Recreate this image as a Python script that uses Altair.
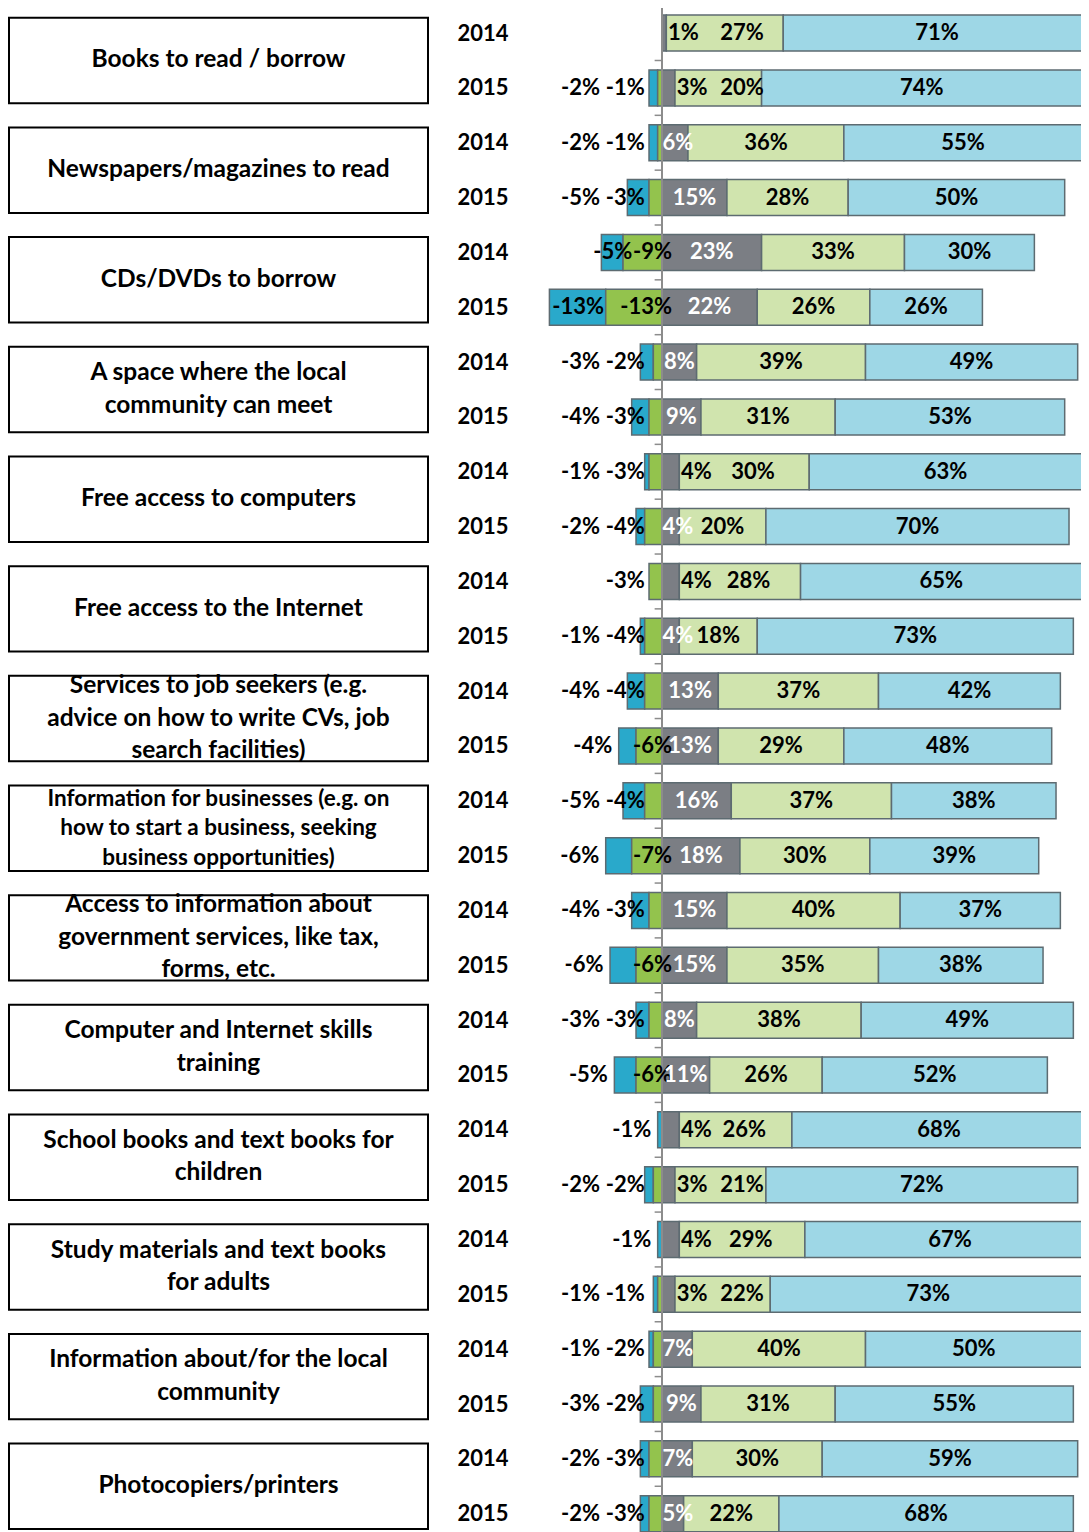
import json
import altair as alt
import pandas as pd

categories = [
    "Books to read / borrow",
    "Newspapers/magazines to read",
    "CDs/DVDs to borrow",
    "A space where the local\ncommunity can meet",
    "Free access to computers",
    "Free access to the Internet",
    "Services to job seekers (e.g.\nadvice on how to write CVs, job\nsearch facilities)",
    "Information for businesses (e.g. on\nhow to start a business, seeking\nbusiness opportunities)",
    "Access to information about\ngovernment services, like tax,\nforms, etc.",
    "Computer and Internet skills\ntraining",
    "School books and text books for\nchildren",
    "Study materials and text books\nfor adults",
    "Information about/for the local\ncommunity",
    "Photocopiers/printers",
]
years = ["2014", "2015"]

# one value per row: category 1 (2014, 2015), category 2 (2014, 2015), ...
very_neg = [0, -2, -2, -5, -5, -13, -3, -4, -1, -2, 0, -1, -4, -4, -5, -6,
            -4, -6, -3, -5, -1, -2, -1, -1, -1, -3, -2, -2]
neg = [0, -1, -1, -3, -9, -13, -2, -3, -3, -4, -3, -4, -4, -6, -4, -7,
       -3, -6, -3, -6, 0, -2, 0, -1, -2, -2, -3, -3]
neutral = [1, 3, 6, 15, 23, 22, 8, 9, 4, 4, 4, 4, 13, 13, 16, 18,
           15, 15, 8, 11, 4, 3, 4, 3, 7, 9, 7, 5]
pos = [27, 20, 36, 28, 33, 26, 39, 31, 30, 20, 28, 18, 37, 29, 37, 30,
       40, 35, 38, 26, 26, 21, 29, 22, 40, 31, 30, 22]
very_pos = [71, 74, 55, 50, 30, 26, 49, 53, 63, 70, 65, 73, 42, 48, 38, 39,
            37, 38, 49, 52, 68, 72, 67, 73, 50, 55, 59, 68]

seg_names = ["very_neg", "neg", "neutral", "pos", "very_pos"]
seg_colors = ["#29A9CB", "#93C34D", "#7B7E84", "#D0E4AE", "#9ED7E6"]

# ---- layout constants (pixels) ----
W, H = 1073, 1525
ZERO_PX = 654          # where 0 % sits
PX = 4.33              # pixels per percentage point
ROW0 = 20.2            # centre of first row
STEP = 55.2            # row pitch
BOX_L, BOX_R = 1, 420
YEAR_RIGHT = 500
FONT = "Lato"
LH_BIG, LH_SMALL = 32.5, 29.5

X_MIN = -ZERO_PX / PX
X_MAX = (W - ZERO_PX) / PX
Y_MIN = -ROW0 / STEP
Y_MAX = (H - ROW0) / STEP


def text_w(s):
    w = 0.0
    for ch in s:
        if ch.isdigit():
            w += 12.8
        elif ch == "%":
            w += 19.0
        elif ch == "-":
            w += 8.5
    return w / PX


seg_rows, lab_rows = [], []
n_rows = len(categories) * len(years)
for i, cat in enumerate(categories):
    for j, yr in enumerate(years):
        k = 2 * i + j
        vn, ng, nu, p, vp = very_neg[k], neg[k], neutral[k], pos[k], very_pos[k]
        bounds = {
            "neg": (ng, 0),
            "very_neg": (ng + vn, ng),
            "neutral": (0, nu),
            "pos": (nu, nu + p),
            "very_pos": (nu + p, nu + p + vp),
        }
        for s in seg_names:
            a, b = bounds[s]
            if a != b:
                seg_rows.append(dict(row=k, seg=s, x0=a, x1=b))

        g, bv = -ng, -vn
        green_left = None
        if g > 0:
            t = f"{ng}%"
            right = 2.3 if g >= 5 else -4.0
            green_left = right - text_w(t)
            lab_rows.append(dict(row=k, txt=t, x=right, al="right", col="black"))
        if bv > 0:
            t = f"{vn}%"
            tw = text_w(t)
            if bv >= tw or g >= 8:
                right = -(g + bv / 2) + tw / 2
            else:
                right = -(g + bv) - 1.5
                if green_left is not None:
                    right = min(right, green_left - 1.0)
            lab_rows.append(dict(row=k, txt=t, x=right, al="right", col="black"))

        outside = nu <= 3 or (nu == 4 and yr == years[0])
        t = f"{nu}%"
        if outside:
            lab_rows.append(dict(row=k, txt=t, x=nu + 0.4, al="left", col="black"))
        else:
            lab_rows.append(dict(row=k, txt=t, x=max(nu / 2, text_w(t) / 2),
                                 al="center", col="white"))
        c = nu + p / 2
        if outside:
            c = max(c + 2, 18.5)
        lab_rows.append(dict(row=k, txt=f"{p}%", x=c, al="center", col="black"))
        lab_rows.append(dict(row=k, txt=f"{vp}%", x=nu + p + vp / 2,
                             al="center", col="black"))

seg_df = pd.DataFrame(seg_rows)
lab_df = pd.DataFrame(lab_rows)
row_df = pd.DataFrame({"row": list(range(n_rows)), "zero": 0.0, "tick_l": -1.7})
row_df["yb"] = row_df["row"] - 0.5
BOX_HALF = 43 / STEP
cat_df = pd.DataFrame({
    "label": categories,
    "bc": [2 * i + 0.5 for i in range(len(categories))],
})
cat_df["b0"] = cat_df["bc"] - BOX_HALF
cat_df["b1"] = cat_df["bc"] + BOX_HALF
cat_df["small"] = [c.startswith("Information for businesses") for c in categories]
cat_df["nlines"] = [c.count("\n") + 1 for c in categories]

x_scale = alt.Scale(domain=[X_MIN, X_MAX], nice=False, zero=False)
y_scale = alt.Scale(domain=[Y_MIN, Y_MAX], nice=False, zero=False, reverse=True)
y_axis = alt.Axis(
    title=None, ticks=False, domain=False, grid=False,
    values=list(range(n_rows)),
    labelExpr=f"{json.dumps(years)}[datum.value % {len(years)}]",
    labelFont=FONT, labelFontWeight="bold", labelFontSize=22, labelColor="#000000",
    labelPadding=0, labelAlign="right", labelBaseline="middle",
    labelOverlap=False, offset=-YEAR_RIGHT,
)


def Y(field):
    return alt.Y(f"{field}:Q", scale=y_scale, axis=y_axis)


def X(field):
    return alt.X(f"{field}:Q", scale=x_scale, axis=None)


boxes = alt.Chart(cat_df).mark_rect(
    fill="white", stroke="black", strokeWidth=2
).encode(y=Y("b0"), y2="b1:Q", x=alt.value(BOX_L), x2=alt.value(BOX_R))


def box_text_layer(small, n):
    size = 22.5 if small else 24.5
    lh = LH_SMALL if small else LH_BIG
    return alt.Chart(cat_df).transform_filter(
        (alt.datum.small == small) & (alt.datum.nlines == n)
    ).mark_text(
        font=FONT, fontWeight="bold", fontSize=size, lineHeight=lh,
        baseline="middle", align="center", lineBreak="\n",
        dy=-(n - 1) * lh / 2,
    ).encode(y=Y("bc"), x=alt.value((BOX_L + BOX_R) / 2), text="label:N")


text_layers = []
for small in (False, True):
    for n in sorted(set(cat_df.loc[cat_df["small"] == small, "nlines"])):
        text_layers.append(box_text_layer(small, int(n)))

bars = alt.Chart(seg_df).mark_bar(
    size=36, orient="horizontal", stroke="#5D6B71", strokeWidth=1.5, clip=True
).encode(
    y=Y("row"),
    x=X("x0"),
    x2="x1:Q",
    color=alt.Color("seg:N", scale=alt.Scale(domain=seg_names, range=seg_colors),
                    legend=None),
)

zero_rule = alt.Chart(row_df).mark_rule(color="#8C8C8C", strokeWidth=2).encode(
    x=X("zero"),
)

ticks = alt.Chart(row_df).mark_rule(color="#8C8C8C", strokeWidth=1.5).encode(
    y=Y("yb"), x=X("tick_l"), x2="zero:Q",
)


def label_layer(align):
    return alt.Chart(lab_df).transform_filter(alt.datum.al == align).mark_text(
        font=FONT, fontWeight="bold", fontSize=22, baseline="middle", align=align
    ).encode(
        y=Y("row"),
        x=X("x"),
        text="txt:N",
        color=alt.Color("col:N", scale=None),
    )


chart = alt.layer(
    boxes, *text_layers, bars, zero_rule, ticks,
    label_layer("right"), label_layer("center"), label_layer("left"),
).properties(
    width=W, height=H, padding=0,
    autosize=alt.AutoSizeParams(type="none"),
).configure(background="white").configure_view(stroke=None)

chart.save("out.html", embed_options={"renderer": "svg", "actions": False})
